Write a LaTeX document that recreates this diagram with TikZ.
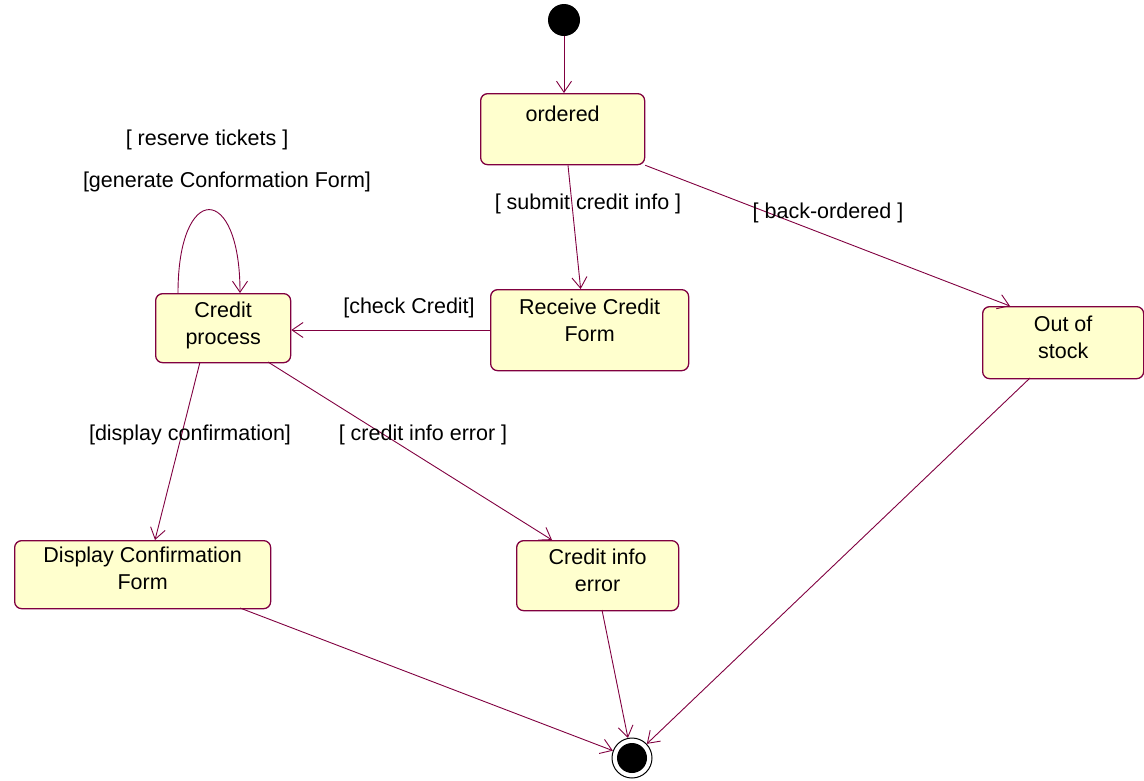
\documentclass[tikz,border=0pt]{standalone}
\usepackage{fontspec}
\setmainfont{Liberation Sans}
\usetikzlibrary{arrows.meta}
\definecolor{umlline}{RGB}{128,0,64}
\definecolor{umlfill}{RGB}{255,255,206}
\begin{document}
\begin{tikzpicture}[x=1pt,y=-1pt,
  state/.style={draw=umlline, fill=umlfill, line width=1.3pt, rounded corners=7pt,
    anchor=north west, inner sep=0pt},
  stxt/.style={anchor=north, align=center, inner sep=0pt,
    font=\fontsize{21.5}{27}\selectfont},
  lbl/.style={inner sep=0pt, font=\fontsize{21.5}{25}\selectfont},
  trans/.style={draw=umlline, line width=0.9pt, -{Straight Barb[length=11pt,width=15pt]}},
  every node/.append style={text=black}]
\useasboundingbox (0,0) rectangle (1144,780);

% states
\node[state, minimum width=164pt, minimum height=71pt] (ord) at (480,93) {};
\node[stxt] at ([yshift=-13pt]ord.north) {ordered};
\node[state, minimum width=198pt, minimum height=81pt] (rcf) at (490,289) {};
\node[stxt] at ([yshift=-10pt]rcf.north) {Receive Credit\\Form};
\node[state, minimum width=135pt, minimum height=69pt] (cp) at (155,293) {};
\node[stxt] at ([yshift=-9pt]cp.north) {Credit\\process};
\node[state, minimum width=161pt, minimum height=72pt] (oos) at (982,306) {};
\node[stxt] at ([yshift=-10pt]oos.north) {Out of\\stock};
\node[state, minimum width=256pt, minimum height=68pt] (dcf) at (14,540) {};
\node[stxt] at ([yshift=-7pt]dcf.north) {Display Confirmation\\Form};
\node[state, minimum width=162pt, minimum height=70pt] (cie) at (516,540) {};
\node[stxt] at ([yshift=-9pt]cie.north) {Credit info\\error};

% initial and final pseudo-states
\node[circle, fill=black, minimum size=32pt, inner sep=0pt] (init) at (564,20) {};
\node[circle, draw=black, line width=1pt, fill=white, minimum size=40pt, inner sep=0pt] (fin) at (632,758) {};
\node[circle, fill=black, minimum size=30pt, inner sep=0pt] (finin) at (632,758) {};

% transitions
\draw[trans] (init) -- (ord.north -| init);
\draw[trans] (ord.south -| 568,0) -- ([xshift=-9pt]rcf.north);
\draw[trans] (ord.south east) -- ([xshift=28pt]oos.north west);
\draw[trans] (rcf.west |- 0,330) -- (cp.east |- 0,330);
\draw[trans] (178,293) .. controls (178,182) and (240,182) .. (240,293);
\draw[trans] (200,362) -- (155,540);
\draw[trans] (268,362) -- (552,540);
\draw[trans] (240,608) -- (fin);
\draw[trans] (602,610) -- (fin);
\draw[trans] (1030,378) -- (fin);

% guard labels
\node[lbl] (g1) at (207,140) {[ reserve tickets ]};
\node[lbl] (g2) at (227,182) {[generate Conformation Form]};
\node[lbl] (g3) at (588,204) {[ submit credit info ]};
\node[lbl] (g4) at (828,213) {[ back-ordered ]};
\node[lbl] (g5) at (409,308) {[check Credit]};
\node[lbl] (g6) at (190,435) {[display confirmation]};
\node[lbl] (g7) at (423,435) {[ credit info error ]};
\end{tikzpicture}
\end{document}
